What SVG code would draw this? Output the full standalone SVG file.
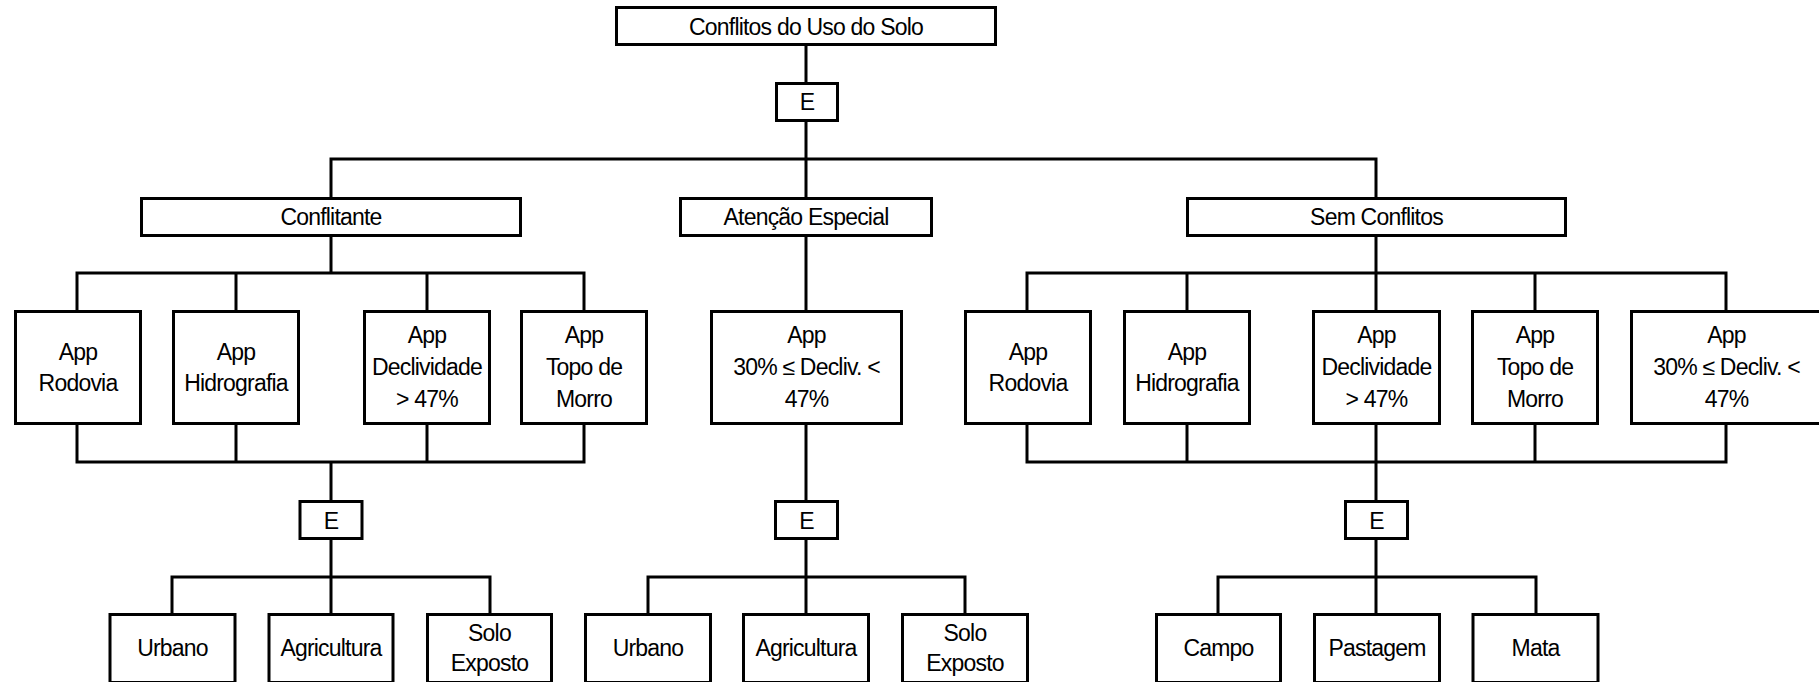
<svg xmlns="http://www.w3.org/2000/svg" width="1819" height="682" viewBox="0 0 1819 682">
<style>
rect{fill:#fff;stroke:#000;stroke-width:3}
text{font-family:"Liberation Sans",Arial,sans-serif;font-size:23px;letter-spacing:-0.8px;text-anchor:middle;fill:#000}
.c{fill:none;stroke:#000;stroke-width:3;stroke-linecap:square}
</style>
<rect x="0" y="0" width="1819" height="682" style="stroke:none"/>
<g id="connectors">
<path class="c" d="M806 45V83M806 121V159M331 159H1376M331 159V198M806 159V198M1376 159V198"/>
<path class="c" d="M331 236V273M77 273H584M77 273V311M236 273V311M427 273V311M584 273V311"/>
<path class="c" d="M806 236V311"/>
<path class="c" d="M1376 236V273M1027 273H1726M1027 273V311M1187 273V311M1376 273V311M1535 273V311M1726 273V311"/>
<path class="c" d="M77 424V462M236 424V462M427 424V462M584 424V462M77 462H584M331 462V501"/>
<path class="c" d="M806 424V501"/>
<path class="c" d="M1027 424V462M1187 424V462M1376 424V462M1535 424V462M1726 424V462M1027 462H1726M1376 462V501"/>
<path class="c" d="M331 539V577M172 577H490M172 577V614M331 577V614M490 577V614"/>
<path class="c" d="M806 539V577M648 577H965M648 577V614M806 577V614M965 577V614"/>
<path class="c" d="M1376 539V577M1218 577H1536M1218 577V614M1376 577V614M1536 577V614"/>
</g>
<g id="root"><rect x="616.5" y="7.5" width="379" height="37"/><text x="806" y="35">Conflitos do Uso do Solo</text></g>
<g id="e-top"><rect x="776.5" y="83.5" width="61" height="37"/><text x="807" y="110">E</text></g>
<g id="conflitante"><rect x="141.5" y="198.5" width="379" height="37"/><text x="331" y="225">Conflitante</text></g>
<g id="atencao"><rect x="680.5" y="198.5" width="251" height="37"/><text x="806" y="225">Atenção Especial</text></g>
<g id="sem-conflitos"><rect x="1187.5" y="198.5" width="378" height="37"/><text x="1376.5" y="225">Sem Conflitos</text></g>

<g id="c-rodovia"><rect x="15.5" y="311.5" width="125" height="112"/><text x="78" y="360">App</text><text x="78" y="391">Rodovia</text></g>
<g id="c-hidrografia"><rect x="173.5" y="311.5" width="125" height="112"/><text x="236" y="360">App</text><text x="236" y="391">Hidrografia</text></g>
<g id="c-declividade"><rect x="364.5" y="311.5" width="125" height="112"/><text x="427" y="343">App</text><text x="427" y="375">Declividade</text><text x="427" y="406.5">&gt; 47%</text></g>
<g id="c-topo"><rect x="521.5" y="311.5" width="125" height="112"/><text x="584" y="343">App</text><text x="584" y="375">Topo de</text><text x="584" y="406.5">Morro</text></g>
<g id="a-decliv"><rect x="711.5" y="311.5" width="190" height="112"/><text x="806.5" y="343">App</text><text x="806.5" y="375">30% ≤ Decliv. &lt;</text><text x="806.5" y="406.5">47%</text></g>
<g id="s-rodovia"><rect x="965.5" y="311.5" width="125" height="112"/><text x="1028" y="360">App</text><text x="1028" y="391">Rodovia</text></g>
<g id="s-hidrografia"><rect x="1124.5" y="311.5" width="125" height="112"/><text x="1187" y="360">App</text><text x="1187" y="391">Hidrografia</text></g>
<g id="s-declividade"><rect x="1313.5" y="311.5" width="126" height="112"/><text x="1376.5" y="343">App</text><text x="1376.5" y="375">Declividade</text><text x="1376.5" y="406.5">&gt; 47%</text></g>
<g id="s-topo"><rect x="1472.5" y="311.5" width="125" height="112"/><text x="1535" y="343">App</text><text x="1535" y="375">Topo de</text><text x="1535" y="406.5">Morro</text></g>
<g id="s-decliv"><rect x="1631.5" y="311.5" width="190" height="112"/><text x="1726.5" y="343">App</text><text x="1726.5" y="375">30% ≤ Decliv. &lt;</text><text x="1726.5" y="406.5">47%</text></g>

<g id="e-conflitante"><rect x="300" y="501.5" width="62" height="37"/><text x="331" y="528.5">E</text></g>
<g id="e-atencao"><rect x="775.5" y="501.5" width="62" height="37"/><text x="806.5" y="528.5">E</text></g>
<g id="e-sem"><rect x="1345.5" y="501.5" width="62" height="37"/><text x="1376.5" y="528.5">E</text></g>

<g id="c-urbano"><rect x="110" y="614.5" width="125" height="68"/><text x="172.5" y="656">Urbano</text></g>
<g id="c-agricultura"><rect x="269" y="614.5" width="124" height="68"/><text x="331" y="656">Agricultura</text></g>
<g id="c-solo"><rect x="427.5" y="614.5" width="124" height="68"/><text x="489.5" y="641">Solo</text><text x="489.5" y="671">Exposto</text></g>
<g id="a-urbano"><rect x="585.5" y="614.5" width="125" height="68"/><text x="648" y="656">Urbano</text></g>
<g id="a-agricultura"><rect x="743.5" y="614.5" width="125" height="68"/><text x="806" y="656">Agricultura</text></g>
<g id="a-solo"><rect x="902.5" y="614.5" width="125" height="68"/><text x="965" y="641">Solo</text><text x="965" y="671">Exposto</text></g>
<g id="s-campo"><rect x="1156.5" y="614.5" width="124" height="68"/><text x="1218.5" y="656">Campo</text></g>
<g id="s-pastagem"><rect x="1314.5" y="614.5" width="125" height="68"/><text x="1377" y="656">Pastagem</text></g>
<g id="s-mata"><rect x="1473" y="614.5" width="125" height="68"/><text x="1535.5" y="656">Mata</text></g>
</svg>
